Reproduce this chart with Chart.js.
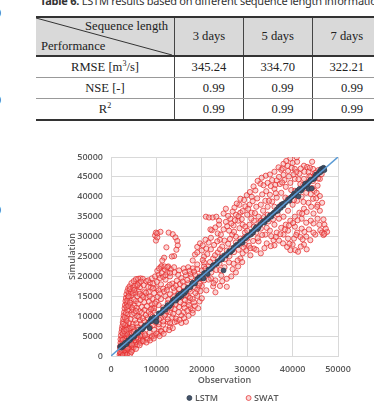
<!DOCTYPE html>
<html>
<head>
<meta charset="utf-8">
<script src="https://cdn.jsdelivr.net/npm/chart.js@4.4.0/dist/chart.umd.min.js"></script>
<style>
html,body{margin:0;padding:0;width:374px;height:407px;overflow:hidden;background:#fff;}
.edge{position:absolute;left:-5px;font:12px "Liberation Serif";color:#333;line-height:12px;}
#cap{position:absolute;left:40px;top:-5px;white-space:nowrap;font:11px "Noto Sans";letter-spacing:-0.25px;color:#333;line-height:11px;}
#tbl{position:absolute;left:36px;top:16px;border-collapse:collapse;table-layout:fixed;width:345px;
  font-family:"Liberation Serif";font-size:12.6px;color:#222;border-top:2px solid #333;border-bottom:2px solid #333;}
#tbl td{padding:0;text-align:center;border-left:1.5px solid #444;height:20px;white-space:nowrap;}
#tbl td.c1{border-left:none;width:138px;}
#tbl tr.hd td{background:#d9d9d9;height:37px;border-bottom:2px solid #333;}
#tbl tr.r1 td,#tbl tr.r2 td{border-bottom:1px solid #999;}
#tbl td.num{text-align:right;padding-right:18px;}
#tbl sup{font-size:8px;vertical-align:5px;line-height:0;}
.diag{position:relative;}
.diag svg{position:absolute;left:0;top:0;}
.sl{position:absolute;right:6px;top:1px;}
.pf{position:absolute;left:5px;bottom:1px;}
#wrap{position:absolute;left:0;top:130px;width:374px;height:310px;}
</style>
</head>
<body>
<div class="edge" style="top:7px">0</div>
<div class="edge" style="top:94px">0</div>
<div class="edge" style="top:204px">0</div>
<div class="edge" style="top:279px">-</div>
<div class="edge" style="top:356px">l</div>
<div class="edge" style="top:374px">l</div>
<div id="cap"><b>Table 6.</b> LSTM results based on different sequence length information</div>
<table id="tbl">
<tr class="hd"><td class="c1 diag"><svg width="138" height="37"><line x1="0" y1="0" x2="136" y2="37" stroke="#333" stroke-width="1"/></svg><span class="sl">Sequence length</span><span class="pf">Performance</span></td><td>3 days</td><td>5 days</td><td>7 days</td></tr>
<tr class="r1"><td class="c1">RMSE [m<sup>3</sup>/s]</td><td>345.24</td><td>334.70</td><td>322.21</td></tr>
<tr class="r2"><td class="c1">NSE [-]</td><td class="num">0.99</td><td class="num">0.99</td><td class="num">0.99</td></tr>
<tr class="r3"><td class="c1">R<sup>2</sup></td><td class="num">0.99</td><td class="num">0.99</td><td class="num">0.99</td></tr>
</table>
<div id="wrap"><canvas id="c" width="374" height="310"></canvas></div>
<script>
// 1:1 reference line
const lineObs = [0, 50000];
const lineSim = [0, 50000];

// LSTM simulated vs observed discharge [m3/s]
const lstmPoints = [
  [2000,2300],[2200,2500],[2300,2100],[2500,2700],[2600,2400],[2800,2600],[3000,2900],[3100,3300],
  [3400,3000],[3600,3500],[3800,3900],[4200,4000],[4400,4500],[4600,4700],[5000,4800],[5200,5100],
  [5500,5600],[5800,6000],[6000,5800],[6500,6700],[6800,6700],[7000,6800],[7300,7300],[7500,7700],
  [8000,7800],[8500,7000],[8800,9300],[8500,8600],[9000,8800],[9500,9700],[10000,9600],[10000,8600],
  [10500,10700],[11000,10800],[11300,11100],[11500,11700],[12000,11600],[12200,12300],[12500,12800],
  [12800,12400],[13000,12700],[13300,13200],[13500,13700],[13800,14100],[14000,14300],[14300,13900],
  [14500,14500],[14700,15000],[14900,15300],[15000,14700],[15200,14900],[15300,15600],[15500,15100],
  [15700,15400],[16000,16200],[16200,15800],[16500,16300],[16800,16900],[17000,17200],[17500,17300],
  [17800,18000],[18000,18400],[18500,18200],[19000,19300],[19500,19800],[19800,19600],[20000,20000],
  [20400,19500],[20500,20800],[21000,21000],[21300,20600],[21500,21700],[22000,21900],[22300,22400],
  [22500,22800],[23000,23000],[23300,23200],[23500,23800],[24000,24100],[24300,24700],[24500,24300],
  [24800,21500],[25000,25300],[25300,25200],[25500,25600],[26000,26300],[26300,26100],[26500,26400],
  [26800,26700],[27000,27200],[27500,27700],[27800,28000],[28000,27900],[28300,28200],[28500,28800],
  [29000,28500],[29000,29100],[29500,29600],[29800,29700],[30000,30200],[30500,30400],[30800,30500],
  [31000,31200],[31300,31000],[31500,31600],[31800,32000],[32000,32400],[32300,31900],[32500,32300],
  [32800,32900],[33000,33200],[33500,33800],[33800,33500],[34000,34100],[34300,34500],[34500,34300],
  [34800,34800],[35000,35300],[35300,35000],[35500,35600],[35800,35900],[36000,36100],[36300,36300],
  [36500,36800],[36800,36500],[37000,37500],[37400,37200],[37500,37900],[37800,38200],[38000,37800],
  [38200,38400],[38500,38600],[39000,39300],[39300,39000],[39500,39700],[39800,40000],[40000,40200],
  [40300,40800],[40500,40400],[40800,40700],[41000,41500],[41300,40100],[41500,42000],[41800,41500],
  [42000,41800],[42300,42200],[42500,42600],[42800,43300],[43000,42800],[43300,43200],[43500,42000],
  [43500,43600],[43800,43900],[44000,44300],[44200,42100],[44500,44400],[44800,44600],[45000,45200],
  [45200,45600],[45500,45600],[45800,46000],[46000,46500],[46200,46200],[46300,47000],[46600,46800],
  [46800,47300],[46900,47000],[47000,46700]
];

// SWAT simulated vs observed discharge [m3/s]
const swatPoints = [
  // low flows
  [1900,300],[2100,500],[2300,300],[2500,600],[2200,900],[2700,400],[2900,800],[3100,500],[2400,1200],
  [2600,1600],[3300,900],[3500,1300],[2800,1900],[3000,1400],[3700,700],[3900,1700],[4100,1100],
  [3200,2100],[2300,2000],[2500,2600],[3400,2500],[3800,2200],[4300,2000],[4500,2600],[4700,1500],
  [5000,2200],[5300,2800],[4000,3000],[3600,3200],[4800,3300],[5500,3500],[5800,2800],[6200,3600],
  [6000,4200],[6600,4200],[7000,4800],[5200,4000],[4400,3800],[2700,3000],[3000,3500],[2400,3800],
  [2200,2700],[2000,1800],[2000,1000],[2600,200],[3500,300],[4200,500],[4600,2900],[5600,4600],
  [6800,5300],[7400,5600],[3300,4300],[2900,4500],[3800,4100],[4300,4700],[2000,2400],[2100,3300],
  [2400,4600],[5100,5000],[6400,5100],[6500,3300],[7200,3700],[8000,4100],[8800,4600],[9600,5100],
  [10400,5600],[11200,6100],[12000,6700],[13000,7300],[7000,3800],[8000,4400],[9000,5000],
  [10000,5700],[11000,6300],[7500,5200],[8500,5900],[9500,6600],[10500,7300],[11500,7900],[12500,8600],
  [2100,4200],[2600,4100],[3300,5100],[4200,5400],[4900,4500],[5700,5400],[3900,4800],[2300,1600],
  [2800,2300],[3600,1900],[4500,1000],[5500,1800],[6300,2700],[7800,3400],[8600,3900],[9400,4400],
  [10700,5000],[11600,5600],[12800,6500],[13600,7000],
  // rising fan
  [2200,5200],[2300,6000],[2400,6800],[2500,7500],[2600,8500],[2700,9300],[2800,10200],[2900,11000],
  [3000,12000],[3100,12800],[3200,13800],[3300,14600],[3400,15500],[3600,16300],[3800,17000],
  [4100,17500],[4500,18300],[5000,18800],[5500,19300],[6000,19400],[6500,19500],[7000,19400],
  [3000,7000],[3300,8000],[3500,9500],[3700,10500],[3900,11800],[4100,12900],[4300,14000],[4500,15200],
  [4700,16300],[4900,17200],[3200,6000],[3600,7200],[4000,8300],[4300,9300],[4600,10400],[4900,11600],
  [5200,12700],[5500,13800],[5800,15000],[6100,16200],[6400,17300],[3800,6200],[4300,7000],[4800,8000],
  [5300,9000],[5800,10000],[6300,11200],[6800,12300],[7300,13500],[7800,14700],[8300,16000],[8800,17300],
  [4500,5800],[5200,6500],[5900,7300],[6600,8100],[7300,8800],[8000,9600],[8700,10500],[9400,11400],
  [3000,5500],[2800,6500],[3500,5600],[4000,6900],[4600,12200],[5000,14200],[5400,15900],[5700,17600],
  [6200,18300],[7200,17800],[7800,18800],[6900,15200],[7400,16200],[3500,13200],[3700,14800],[4000,15800],
  [2600,5600],[2900,6200],[3400,6600],[3100,7800],[2700,8100],[3400,8900],[3000,9700],[3300,10800],
  [3600,11500],[3400,12300],[3800,12600],[3600,13900],[4200,13400],[3900,15000],[4400,16100],[4200,16800],
  [4800,15800],[5100,16600],[5300,17700],[5900,17900],[6600,18700],[5600,12100],[6000,13200],[6500,14100],
  [7100,14800],[6300,15600],[7700,15900],[8200,17400],[8600,18400],[5100,10800],[5500,11300],[6200,9800],
  [6800,10900],[7400,11600],[7900,12500],[8400,13700],[9100,14400],[4700,7300],[5600,8200],[6400,9000],
  [7000,9500],[7700,10300],[8300,11100],[9100,12100],[5000,6000],[6000,6600],[7100,7200],[8200,8300],
  [9200,9900],
  // mid flows
  [8200,19000],[9000,19500],[9700,20000],[10500,20400],[11200,20800],[11900,21700],[12600,22500],
  [11000,22300],[10200,21400],[9300,18200],[10000,17000],[11000,18000],[12000,19200],[13000,20000],
  [14000,21000],[15000,21500],[16000,22000],[17000,22300],[18000,22000],[19000,21800],[8500,15000],
  [9500,15800],[10500,16500],[11500,16900],[12500,17400],[13500,18200],[14500,18900],[15500,19600],
  [16500,20300],[17500,20600],[18500,20400],[9000,13000],[10000,13600],[11000,14300],[12000,15000],
  [13000,15500],[14000,16300],[15000,16800],[16000,17500],[17000,18300],[19500,20000],[20000,21500],
  [19000,23000],[20500,22500],[9500,12000],[10500,12800],[11500,12200],[12500,13300],[13500,13000],
  [14500,14200],[15500,14800],[16500,15300],[17500,16200],[18500,17200],[12000,10500],[13000,11000],
  [14000,11800],[15000,12300],[16000,13000],[17000,13600],[18000,14300],[19000,15100],[12500,9200],
  [13500,9700],[14500,8700],[15500,8300],[16500,8600],[14000,8500],[13000,8300],[11500,8700],
  [10500,8000],[11000,9500],[16000,11000],[17500,12000],[18500,12600],[19500,13700],[20000,14500],
  [17000,15000],[15500,10200],[18000,11500],[19000,16700],[20000,17600],
  [8800,11700],[9700,13200],[10300,14900],[10800,15700],[11700,16200],[12300,16600],[12900,17900],
  [13800,17100],[14300,17700],[15200,18100],[15800,18700],[16800,19100],[17700,19800],[18900,19100],
  [19800,19500],[9300,17000],[10100,18600],[10800,19600],[11500,19900],[12400,21000],[13200,21800],
  [13900,22300],[14800,20400],[16300,21100],[17300,21400],[18300,21200],[12600,14200],[13700,14800],
  [14800,15600],[15900,16100],[17200,16700],[18200,18300],[19300,17700],[13200,12100],[14200,12900],
  [15300,13500],[16300,14000],[17400,14600],[18600,15800],[19700,16300],[12300,11200],[13700,10600],
  [14900,11000],[16200,12100],[17200,12800],[18300,13500],[14300,9400],[15100,9100],[16100,9500],
  [17100,10100],[18000,10800],[19200,12000],[11800,10200],[10600,9200],[9800,8400],[9200,7700],
  [8600,7200],[16800,11400],
  // isolated loop near 10000-15000
  [9700,30300],[9900,31000],[10200,30800],[10900,31200],[9900,29000],[10200,29800],[12700,31000],
  [13600,30600],[14200,29800],[14600,28900],[14700,27800],[14400,26700],[13900,25100],[13400,25000],
  [12200,27300],[11700,24700],[11300,24000],[11100,22600],[11800,22500],[12400,22300],[10600,22000],
  [12000,20300],[13000,20900],
  // 18000-30000
  [18000,24000],[18500,25500],[19000,27400],[19600,28300],[19000,26000],[20000,26500],[20500,25000],
  [21000,27000],[21500,28500],[22000,29700],[22200,31600],[23000,32300],[23500,30800],[24000,29200],
  [24500,27500],[25000,29000],[25300,33700],[26300,34500],[25300,37000],[20900,35000],[21600,34800],
  [22400,34800],[23200,35000],[26000,31500],[27000,32800],[27500,30000],[28000,34000],[28500,36000],
  [29000,33000],[29500,31000],[20500,23500],[21500,22500],[22500,24500],[23500,26000],[24500,25000],
  [25500,26500],[26500,27000],[27500,28500],[28500,29500],[29500,28000],[21000,20500],[22000,19500],
  [23000,19000],[24000,21600],[25000,22300],[26000,23500],[27000,23200],[28000,22500],[28500,24500],
  [29000,25800],[22500,17500],[24500,18800],[25500,17400],[26500,20000],[27500,21000],[23000,16000],
  [19500,18200],[21000,16500],[20500,19000],[24000,26800],[25800,28200],[26700,30500],[23800,34000],
  [24800,35800],[27500,35500],[28300,38000],[27700,38300],
  [20200,24100],[21200,25600],[22000,26800],[22700,27900],[23400,28800],[24200,30500],[24800,31800],
  [25600,32600],[26500,33300],[27300,34100],[28100,35100],[29000,36400],[29600,37600],[20800,21900],
  [21800,23600],[22900,25300],[23900,23200],[25100,24300],[26100,25100],[27100,26100],[28100,26700],
  [29200,27300],[22100,21000],[23200,21600],[24300,20200],[25500,19400],[26800,21800],[27900,24000],
  [28900,23600],[29800,26500],[21500,19200],[22600,18300],[24000,17600],[21900,31800],[20800,29200],
  [20200,27800],[23800,33000],[25800,35200],[26800,36300],[27200,37300],[29300,39200],[28800,34400],
  [29600,32500],[26200,29400],[27100,31200],[28300,32100],
  // high flows
  [29900,40400],[28500,39500],[31000,40000],[31800,41600],[32900,43300],[33600,42900],[34500,43500],
  [35500,44200],[36500,44100],[37000,45000],[38000,48300],[39500,49600],[40900,49900],[38600,49000],
  [40000,48500],[41000,48800],[42500,47800],[43200,47500],[43500,46200],[44300,48800],[44500,47000],
  [45000,46000],[44000,45000],[40500,47000],[39000,46500],[37500,46800],[38000,45500],[36000,42000],
  [35000,40500],[34000,39000],[33000,38000],[32000,37500],[31000,36000],[30500,38000],[30000,35500],
  [30500,33000],[31500,34000],[32500,35000],[33500,36500],[34500,37500],[35500,38800],[36500,39800],
  [37500,41000],[38500,42500],[39500,43500],[40500,44500],[41500,45800],[42500,44500],[43500,43800],
  [44500,44000],[46000,44500],[45500,42800],[44800,41500],[32000,31000],[33000,32000],[34000,30500],
  [35000,31500],[36000,33000],[37000,34500],[38000,35000],[39000,36500],[40000,38000],[41000,39000],
  [42000,40000],[43000,41000],[34300,28300],[35800,29100],[36500,31000],[37500,32200],[38500,33000],
  [39500,34000],[40500,35000],[41500,36000],[42500,37000],[43500,38500],[44500,39500],[45500,38000],
  [46000,36500],[44600,35800],[45400,37500],[44600,33300],[46100,31600],[47600,31200],[46800,30400],
  [43900,29100],[41700,29900],[39500,26600],[40600,26600],[38800,27400],[41200,26200],[40000,28000],
  [42500,28000],[43000,30000],[42000,32000],[43000,33500],[41000,31000],[39000,29500],[38000,30500],
  [37000,29000],[36000,27800],[33000,25800],[30700,25300],[31500,27000],[32500,28800],[30000,29500],
  [31000,30800],[45000,30500],[46500,31000],[47000,30700],[44000,34000],[45500,34500],[42000,34500],
  [40500,32500],[39000,31500],[47000,33000],[30000,31500],[31500,32500],[33000,34000],[34500,35500],
  [36000,37500],[37500,38000],[39000,39500],[40500,41500],
  [30600,41200],[31400,42600],[32300,44000],[33200,44800],[34100,45300],[35000,45600],[36000,46300],
  [36900,47400],[37800,47100],[38900,47800],[39800,47300],[40800,46200],[41800,47100],[42600,46300],
  [43800,47300],[44900,45500],[45600,44600],[46400,45700],[35200,42700],[36200,43000],[37200,43200],
  [38200,44200],[39200,45100],[40200,45600],[41300,44400],[42300,43000],[43300,42500],[44300,42200],
  [45300,41000],[46000,40200],[46500,38500],[45200,39600],[44100,37500],[43100,36200],[42100,35800],
  [41100,34100],[40100,33400],[39200,32800],[38300,31800],[37300,30600],[36300,29900],[35300,30100],
  [34300,32200],[33300,30400],[32300,29600],[31300,28900],[30400,27700],[32000,26700],[33800,27100],
  [35200,27600],[37900,28300],[39300,28200],[40300,29500],[42200,29300],[43600,31800],[44600,31000],
  [45900,33000],[46800,34300],[47300,32000],[41800,27500],[43100,26800],[42600,31200],[40800,30400],
  [36700,35600],[35700,34300],[34700,33800],[33700,34900],[32700,33500],[31700,35900],[30900,34500],
  [30200,37000],[31200,38900],[32200,39600],[33300,40600],[34200,41400],[37700,43600],[39700,41700],
  [41700,43200],[43700,45200],[45700,46700],[38400,39800],[40300,39200],[42400,38700],[44000,40700],
  [36300,40900],[34800,39000],[30700,27100],[29400,29800]
];

const grey = '#595959';
const axisFont = {family: 'Open Sans', size: 9, weight: '600'};

const toXY = pts => pts.map(p => ({x: p[0], y: p[1]}));

// moves the legend under the plot the way the original figure has it
const placeLegend = {
  id: 'placeLegend',
  afterLayout(chart) {
    const lg = chart.legend;
    lg.left += 9; lg.right += 9;
    lg.top -= 22; lg.bottom -= 22;
  }
};

new Chart(document.getElementById('c'), {
  type: 'scatter',
  data: {
    datasets: [
      {
        label: '1:1',
        data: lineObs.map((x, i) => ({x, y: lineSim[i]})),
        showLine: true,
        borderColor: '#5b9bd5',
        borderWidth: 1.5,
        pointRadius: 0
      },
      {
        label: 'LSTM',
        data: toXY(lstmPoints),
        pointRadius: 2.4,
        backgroundColor: '#44546a',
        borderColor: '#2f3b4c',
        borderWidth: 0.8
      },
      {
        label: 'SWAT',
        data: toXY(swatPoints),
        pointRadius: 2.6,
        backgroundColor: 'rgba(242,150,150,0.4)',
        borderColor: 'rgba(228,40,40,0.72)',
        borderWidth: 1
      }
    ]
  },
  options: {
    responsive: false,
    animation: false,
    layout: {padding: {left: 0, right: 36, top: 27, bottom: 5.5}},
    plugins: {
      tooltip: {enabled: false},
      legend: {
        position: 'bottom',
        fullSize: false,
        labels: {
          filter: item => item.datasetIndex !== 0,
          usePointStyle: true,
          pointStyle: 'circle',
          boxWidth: 2,
          boxHeight: 3.5,
          padding: 29.5,
          color: grey,
          font: axisFont
        }
      }
    },
    scales: {
      x: {
        min: 0, max: 50000,
        afterFit: s => { s.height = 30; },
        border: {color: '#d9d9d9'},
        grid: {color: '#d9d9d9', drawTicks: false},
        ticks: {stepSize: 10000, padding: 8, color: grey, font: axisFont, callback: v => String(v), maxRotation: 0},
        title: {display: true, text: 'Observation', color: grey, font: axisFont, padding: {top: 0, bottom: 0}}
      },
      y: {
        min: 0, max: 50000,
        afterFit: s => { s.width = 111; },
        border: {color: '#d9d9d9'},
        grid: {color: '#d9d9d9', drawTicks: false},
        ticks: {stepSize: 5000, padding: 8, color: grey, font: axisFont, callback: v => String(v)},
        title: {display: true, text: 'Simulation', color: grey, font: axisFont, padding: {top: 66.6, bottom: 0}}
      }
    }
  },
  plugins: [placeLegend]
});
</script>
</body>
</html>
